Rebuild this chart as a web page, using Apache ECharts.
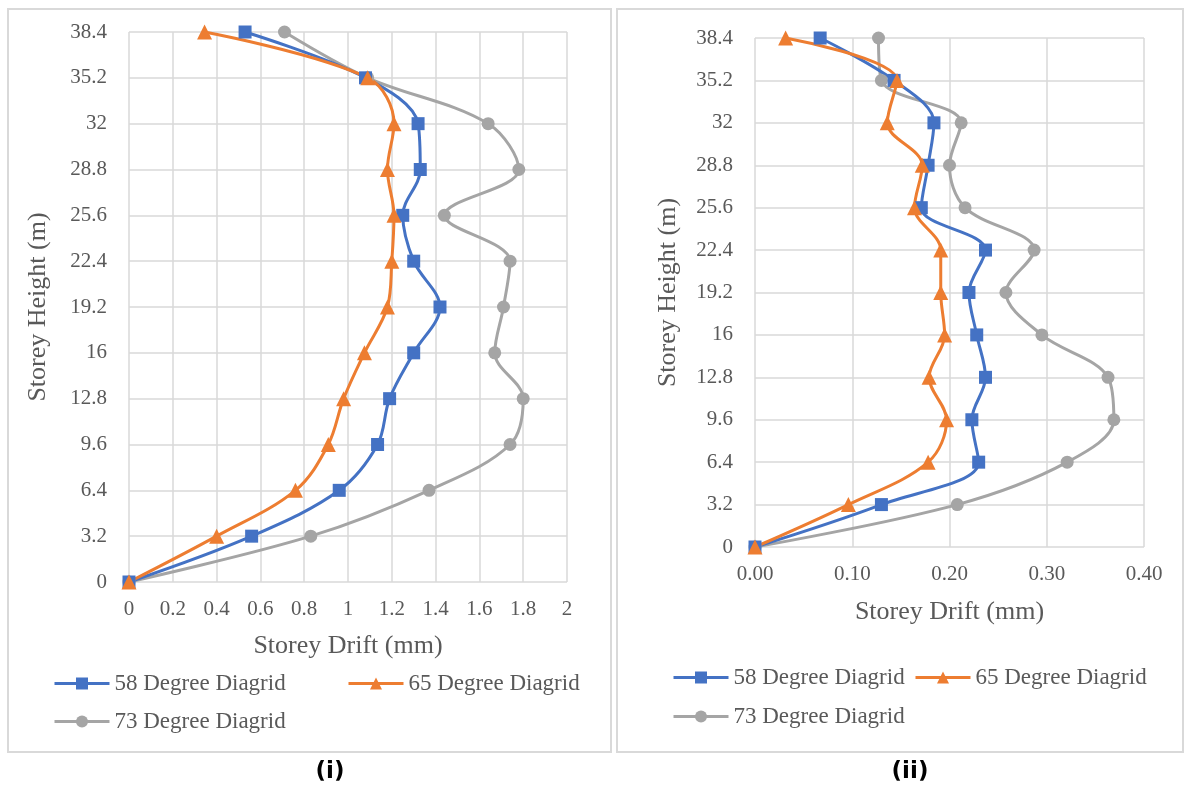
<!DOCTYPE html>
<html>
<head>
<meta charset="utf-8">
<script src="https://cdn.jsdelivr.net/npm/echarts@6/dist/echarts.min.js"></script>
<style>
html,body{margin:0;padding:0;background:#fff;}
#c{width:1190px;height:785px;}
</style>
</head>
<body>
<div id="c"></div>
<script>
// Storey heights (m)
const heights = [0, 3.2, 6.4, 9.6, 12.8, 16, 19.2, 22.4, 25.6, 28.8, 32, 35.2, 38.4];
// Chart (i) storey drift (mm)
const drift58_i = [0, 0.56, 0.96, 1.135, 1.19, 1.30, 1.42, 1.30, 1.25, 1.33, 1.32, 1.08, 0.53];
const drift65_i = [0, 0.40, 0.76, 0.91, 0.98, 1.075, 1.18, 1.20, 1.21, 1.18, 1.21, 1.09, 0.345];
const drift73_i = [0, 0.83, 1.37, 1.74, 1.80, 1.67, 1.71, 1.74, 1.44, 1.78, 1.64, 1.09, 0.71];
// Chart (ii) storey drift (mm)
const drift58_ii = [0, 0.130, 0.230, 0.223, 0.237, 0.228, 0.220, 0.237, 0.171, 0.178, 0.184, 0.143, 0.067];
const drift65_ii = [0, 0.096, 0.178, 0.197, 0.179, 0.195, 0.191, 0.191, 0.164, 0.172, 0.136, 0.146, 0.0315];
const drift73_ii = [0, 0.208, 0.321, 0.369, 0.363, 0.295, 0.258, 0.287, 0.216, 0.200, 0.212, 0.130, 0.127];
const seriesNames = ['58 Degree Diagrid', '65 Degree Diagrid', '73 Degree Diagrid'];
const panelLabels = ['(i)', '(ii)'];
const xTitle = 'Storey Drift (mm)';
const yTitle = 'Storey Height (m)';

const colors = ['#4472C4', '#ED7D31', '#A5A5A5'];
const symbols = ['rect', 'triangle', 'circle'];
const symSizes = [13, 15, 13];
const serif = '"Liberation Serif", "Times New Roman", serif';
const txt = '#595959';
const gridColor = '#D9D9D9';

function pairs(xs) { return xs.map((x, i) => [x, heights[i]]); }

function mkSeries(data, k, gi) {
  return {
    name: seriesNames[k], type: 'line', xAxisIndex: gi, yAxisIndex: gi,
    data: pairs(data), smooth: 0.35,
    symbol: symbols[k], symbolSize: symSizes[k],
    lineStyle: { color: colors[k], width: 3 },
    itemStyle: { color: colors[k] },
    animation: false
  };
}

function xAxis(gi, max, interval, dec, nameGap) {
  return {
    type: 'value', gridIndex: gi, min: 0, max: max, interval: interval,
    axisLine: { show: false }, axisTick: { show: false },
    splitLine: { show: true, lineStyle: { color: gridColor, width: 1.5 } },
    axisLabel: { color: txt, fontFamily: serif, fontSize: 21, margin: 17,
      formatter: v => dec === 0 ? String(+v.toFixed(1)) : v.toFixed(dec) },
    name: xTitle, nameLocation: 'middle', nameGap: nameGap,
    nameTextStyle: { color: txt, fontFamily: serif, fontSize: 26 }
  };
}
function yAxis(gi, nameGap) {
  return {
    type: 'value', gridIndex: gi, min: 0, max: 38.4, interval: 3.2,
    axisLine: { show: false }, axisTick: { show: false },
    splitLine: { show: true, lineStyle: { color: gridColor, width: 1.5 } },
    axisLabel: { color: txt, fontFamily: serif, fontSize: 21, margin: 22,
      formatter: v => String(+v.toFixed(1)) },
    name: yTitle, nameLocation: 'middle', nameGap: nameGap, nameRotate: 90,
    nameTextStyle: { color: txt, fontFamily: serif, fontSize: 26 }
  };
}
function legend(k, left, top) {
  return {
    data: [seriesNames[k]], left: left, top: top, orient: 'horizontal',
    itemWidth: 55, itemHeight: 15, padding: 0,
    lineStyle: { width: 3 },
    textStyle: { color: txt, fontFamily: serif, fontSize: 23 },
    selectedMode: false
  };
}

const chart = echarts.init(document.getElementById('c'), null, { renderer: 'canvas' });
chart.setOption({
  backgroundColor: '#fff',
  animation: false,
  grid: [
    { left: 129, top: 32, width: 438, height: 550 },
    { left: 755, top: 38, width: 389, height: 509 }
  ],
  xAxis: [xAxis(0, 2, 0.2, 0, 51), xAxis(1, 0.4, 0.1, 2, 52)],
  yAxis: [yAxis(0, 78), yAxis(1, 74)],
  legend: [
    legend(0, 53, 672), legend(1, 347, 672), legend(2, 53, 710),
    legend(0, 672, 666), legend(1, 914, 666), legend(2, 672, 705)
  ],
  series: [
    mkSeries(drift73_i, 2, 0), mkSeries(drift58_i, 0, 0), mkSeries(drift65_i, 1, 0),
    mkSeries(drift73_ii, 2, 1), mkSeries(drift58_ii, 0, 1), mkSeries(drift65_ii, 1, 1)
  ],
  graphic: [
    { type: 'rect', shape: { x: 8, y: 9, width: 603, height: 743 }, style: { fill: 'none', stroke: gridColor, lineWidth: 2 }, silent: true, z: -1 },
    { type: 'rect', shape: { x: 617, y: 9, width: 566, height: 743 }, style: { fill: 'none', stroke: gridColor, lineWidth: 2 }, silent: true, z: -1 },
    { type: 'text', x: 330, y: 772, style: { text: panelLabels[0], font: 'bold 23px "DejaVu Sans", sans-serif', fill: '#000', textAlign: 'center', textVerticalAlign: 'middle' } },
    { type: 'text', x: 910, y: 772, style: { text: panelLabels[1], font: 'bold 23px "DejaVu Sans", sans-serif', fill: '#000', textAlign: 'center', textVerticalAlign: 'middle' } }
  ]
});
</script>
</body>
</html>
